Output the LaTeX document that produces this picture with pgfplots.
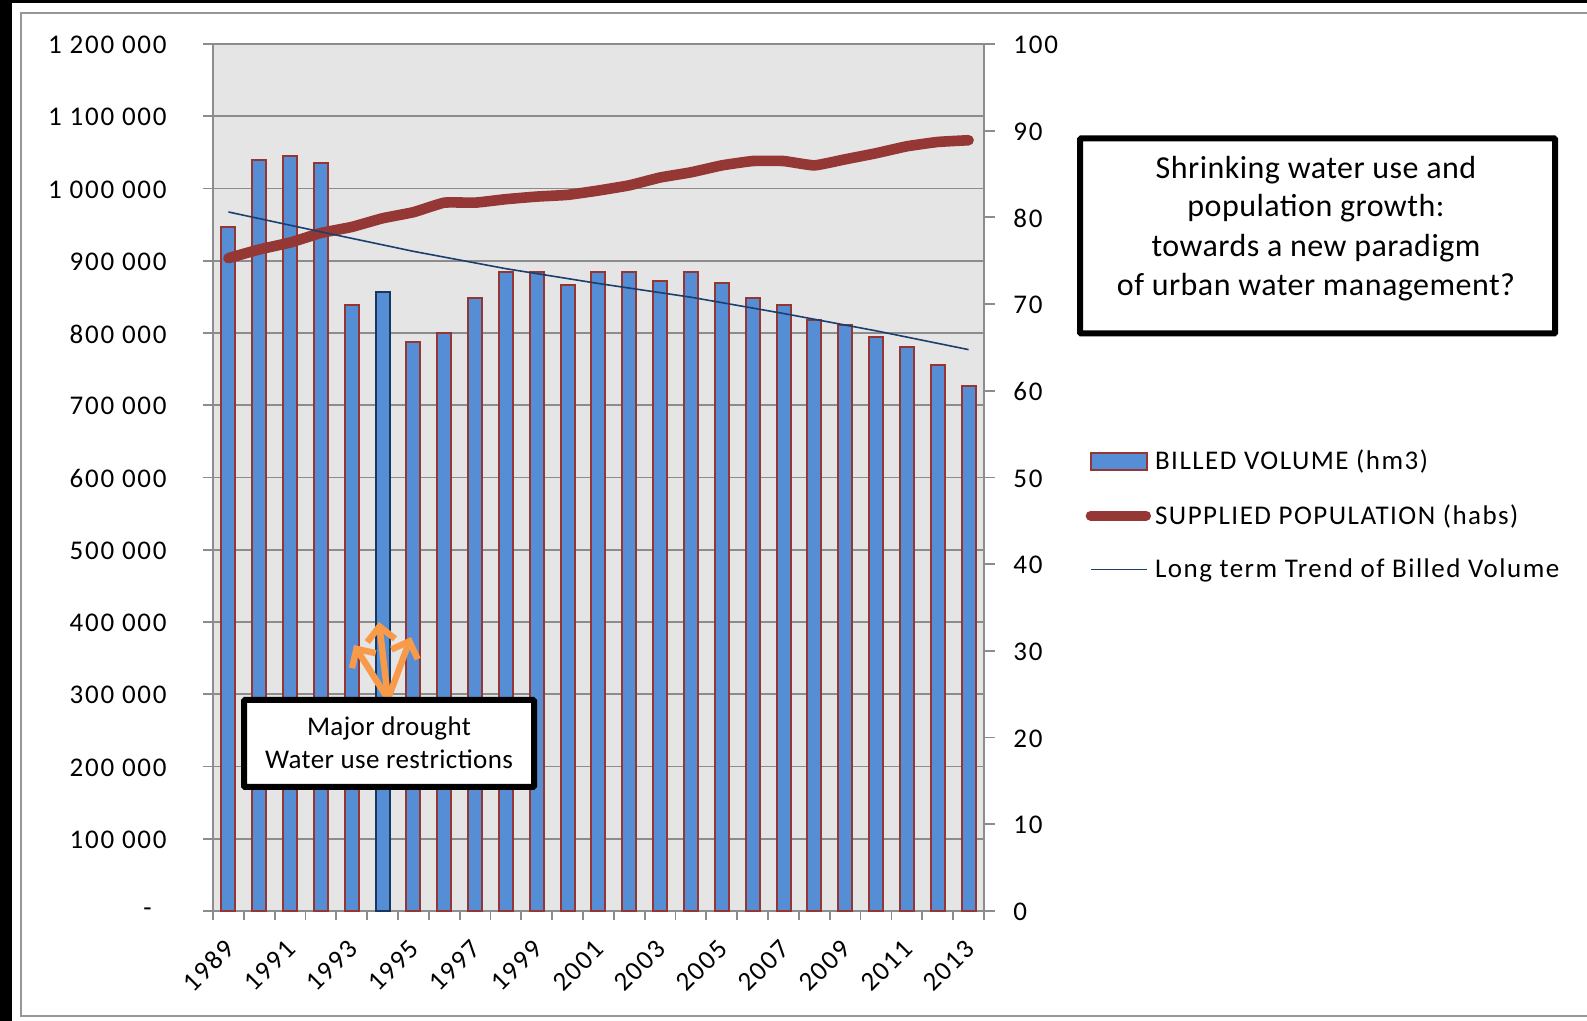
\documentclass[border=0pt]{standalone}
\usepackage{fontspec}
\setmainfont[LetterSpace=1.5]{Carlito}
\newfontfamily\tickfont[LetterSpace=6.5]{Carlito}
\newfontfamily\legfont[LetterSpace=5.5]{Carlito}
\usepackage{pgfplots}
\pgfplotsset{compat=1.18}
\usetikzlibrary{arrows.meta}
\definecolor{gridc}{HTML}{8C8C8C}
\definecolor{barfill}{HTML}{558ED5}
\definecolor{barline}{HTML}{943634}
\definecolor{barline2}{HTML}{17375E}
\definecolor{popc}{HTML}{953735}
\definecolor{trendc}{HTML}{1B3F6E}
\definecolor{plotbg}{HTML}{E5E5E5}
\definecolor{arrowc}{HTML}{F79A4A}
\pgfplotsset{
  common/.style={
    scale only axis, width=385.5pt, height=433.5pt,
    at={(106.5pt,-455.5pt)}, anchor=south west,
    xmin=1988.5, xmax=2013.5,
    tick style={draw=gridc, line width=0.9pt},
    axis line style={draw=gridc, line width=1.1pt},
    tick align=outside,
  }
}
\begin{document}
\begin{tikzpicture}
\useasboundingbox (0,0) rectangle (793.5pt,-510.5pt);
\begin{scope}[x=0.5pt,y=-0.5pt]
\fill[white] (0,0) rectangle (1587,1021);
\fill[black] (0,0) rectangle (1587,3.5);
\fill[black] (0,0) rectangle (12,1021);
\draw[gridc!90, line width=1.2pt] (1587,13) -- (21,13) -- (21,1016) -- (1587,1016);
\end{scope}

% Bars, left axis
\begin{axis}[common,
  axis background/.style={fill=plotbg},
  xtick={1989,1991,1993,1995,1997,1999,2001,2003,2005,2007,2009,2011,2013},
  xticklabels={1989,1991,1993,1995,1997,1999,2001,2003,2005,2007,2009,2011,2013},
  minor xtick={1988.5,1989.5,...,2013.5},
  xtick pos=bottom, ytick pos=left,
  major tick length=5pt,
  x tick style={draw=none},
  minor x tick style={draw=gridc, line width=0.9pt},
  minor tick length=4.5pt,
  xticklabel style={rotate=45, anchor=north east, inner sep=0pt, xshift=-7.7pt, yshift=-4pt, font=\tickfont\fontsize{13.5}{15}\selectfont},
  ymin=0, ymax=1200000,
  ytick={0,100000,200000,300000,400000,500000,600000,700000,800000,900000,1000000,1100000,1200000},
  yticklabels={-\hspace*{7.5pt}\mbox{},100 000,200 000,300 000,400 000,500 000,600 000,700 000,800 000,900 000,1 000 000,1 100 000,1 200 000},
  yticklabel style={anchor=east, inner sep=0pt, xshift=-18pt, yshift=-0.5pt, font=\tickfont\fontsize{13.5}{15}\selectfont},
  ymajorgrids, grid style={draw=gridc, line width=0.85pt},
  scaled y ticks=false,
]
\addplot[ybar, bar width=7pt, bar shift=0pt, fill=barfill, draw=barline, line width=1pt] coordinates {
(1989,946500)(1990,1040000)(1991,1044500)(1992,1034800)(1993,838700)
(1995,787000)(1996,799500)(1997,848500)(1998,885000)(1999,885000)(2000,866800)
(2001,885000)(2002,885000)(2003,872400)(2004,885000)(2005,869500)(2006,848500)
(2007,838700)(2008,817700)(2009,810700)(2010,794000)(2011,781300)(2012,756100)(2013,726700)};
\addplot[ybar, bar width=7pt, bar shift=0pt, fill=barfill, draw=barline2, line width=1pt] coordinates {(1994,857000)};
\end{axis}

% Population, right axis
\begin{axis}[common,
  axis x line=none, axis y line*=right,
  ymin=0, ymax=100, ytick={0,10,...,100},
  major tick length=5.5pt,
  /pgf/number format/assume math mode=true,
  yticklabel style={anchor=west, inner sep=0pt, xshift=9pt, yshift=-0.5pt, font=\tickfont\fontsize{13.5}{15}\selectfont},
]
\addplot[popc, line width=5.3pt, line cap=round, line join=round, smooth, tension=0.25] coordinates {
(1989,75.3)(1990,76.3)(1991,77.1)(1992,78.2)(1993,78.9)(1994,79.9)(1995,80.6)(1996,81.7)
(1997,81.7)(1998,82.1)(1999,82.4)(2000,82.6)(2001,83.1)(2002,83.7)(2003,84.6)(2004,85.2)
(2005,86.0)(2006,86.5)(2007,86.5)(2008,86.0)(2009,86.7)(2010,87.4)(2011,88.2)(2012,88.7)(2013,88.9)};
\end{axis}

% Trend, left scale, plus legend
\begin{axis}[common,
  hide axis,
  ymin=0, ymax=1200000,
  clip=false,
  legend style={draw=none, fill=none, at={(1.1285,0.5363)}, anchor=north west, inner sep=0pt, outer sep=0pt,
    row sep=11.8pt, font=\legfont\fontsize{13.5}{16}\selectfont,
    /tikz/every even column/.append style={column sep=1.5pt}},
  legend cell align=left,
]
\addlegendimage{legend image code/.code={
  \path[draw=none] (0pt,0pt) -- (34pt,0pt);
  \draw[fill=barfill, draw=barline, line width=0.8pt] (4pt,-4.2pt) rectangle (32pt,4.2pt);}}
\addlegendentry{BILLED VOLUME (hm3)}
\addlegendimage{legend image code/.code={
  \path[draw=none] (0pt,0pt) -- (34pt,0pt);
  \draw[popc, line width=5pt, line cap=round] (3.8pt,0pt) -- (31.5pt,0pt);}}
\addlegendentry{SUPPLIED POPULATION (habs)}
\addlegendimage{legend image code/.code={
  \path[draw=none] (0pt,0pt) -- (34pt,0pt);
  \draw[trendc, line width=0.75pt] (4pt,0pt) -- (32pt,0pt);}}
\addlegendentry{Long term Trend of Billed Volume}
\addplot[trendc, line width=0.8pt, forget plot] coordinates {
(1989,967500)(1992,940000)(1995,913000)(1998,889000)(2001,868500)(2004,849500)(2007,827000)(2010,803000)(2013,777000)};
\end{axis}

\begin{scope}[x=0.5pt,y=-0.5pt]
% arrows
\begin{scope}[arrowc, line width=3.2pt, -{Straight Barb[length=7pt,width=14pt]}]
\draw (388,699) -- (379,622);
\draw (388,699) -- (354,645);
\draw (388,699) -- (411,637);
\end{scope}
% annotation box
\draw[black, line width=3pt, fill=white, rounded corners=0.5pt] (244,700) rectangle (534,787);
\node[font=\fontsize{13.5}{15}\selectfont] at (389,728) {Major drought};
\node[font=\fontsize{13.5}{15}\selectfont] at (389,759) {Water use restrictions};
% title box
\draw[black, line width=3pt, fill=white, rounded corners=0.5pt] (1080,138.5) rectangle (1555,333.5);
\node[font=\fontsize{16}{18}\selectfont] at (1316,170) {Shrinking water use and};
\node[font=\fontsize{16}{18}\selectfont] at (1316,208) {population growth:};
\node[font=\fontsize{16}{18}\selectfont] at (1316,248) {towards a new paradigm};
\node[font=\fontsize{16}{18}\selectfont] at (1316,287) {of urban water management?};
\end{scope}
\end{tikzpicture}
\end{document}
